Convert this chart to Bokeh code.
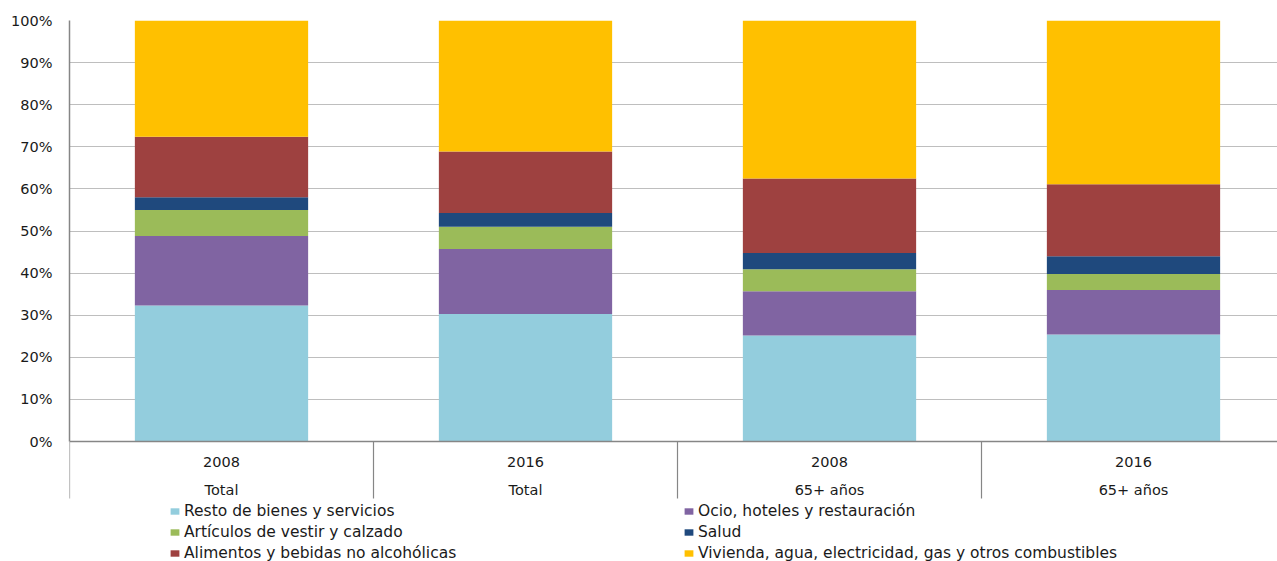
from bokeh.plotting import figure
from bokeh.models import (Range1d, FixedTicker, PrintfTickFormatter, Legend, LegendItem,
                          ColumnDataSource, Span)
from bokeh.core.properties import value
from bokeh.embed import file_html
from bokeh.resources import INLINE

# ---- data ----
years = ["2008", "2016", "2008", "2016"]
groups = ["Total", "Total", "65+ años", "65+ años"]
series_names = [
    "Resto de bienes y servicios",
    "Ocio, hoteles y restauración",
    "Artículos de vestir y calzado",
    "Salud",
    "Alimentos y bebidas no alcohólicas",
    "Vivienda, agua, electricidad, gas y otros combustibles",
]
resto = [32.3, 30.3, 25.2, 25.4]
ocio = [16.5, 15.4, 10.5, 10.6]
articulos = [6.2, 5.3, 5.2, 3.8]
salud = [3.0, 3.3, 3.9, 4.2]
alimentos = [14.4, 14.6, 17.7, 17.1]
vivienda = [27.6, 31.1, 37.5, 38.9]
colors = ["#93CDDD", "#8064A2", "#9BBB59", "#1F497D", "#9E4140", "#FFC000"]
y_ticks = list(range(0, 101, 10))

# ---- layout constants (pixels) ----
FONT = "DejaVu Sans"
TXT = "#1a1a1a"
AX = "#868686"
FRAME_W = 1208
CAT_W = 304
PLOT_H = 421          # height of the 0..100 % area
FRAME_H = 541         # plot area + category labels + legend
PX = 100.0 / PLOT_H   # data units per pixel


def below(px):
    """y value `px` pixels below the 0 % line"""
    return -px * PX


n = len(years)
xs = [i + 0.5 for i in range(n)]
bounds = list(range(n))
keys = ["resto", "ocio", "articulos", "salud", "alimentos", "vivienda"]
source = ColumnDataSource(dict(x=xs, resto=resto, ocio=ocio, articulos=articulos,
                               salud=salud, alimentos=alimentos, vivienda=vivienda))

p = figure(frame_width=FRAME_W, frame_height=FRAME_H,
           x_range=Range1d(0, FRAME_W / CAT_W),
           y_range=Range1d(below(FRAME_H - PLOT_H), 100),
           output_backend="svg", toolbar_location=None,
           min_border_left=69, min_border_right=0, min_border_top=20, min_border_bottom=0)
p.outline_line_color = None
p.background_fill_color = "white"
p.border_fill_color = "white"

renderers = p.vbar_stack(keys, x="x", width=0.57, color=colors, source=source, line_color=None)

# y axis
p.yaxis.ticker = FixedTicker(ticks=y_ticks)
p.yaxis.bounds = (0, 100)
p.yaxis.formatter = PrintfTickFormatter(format="%d%%")
p.yaxis.major_tick_out = 0
p.yaxis.major_tick_in = 0
p.yaxis.minor_tick_out = 0
p.yaxis.major_label_standoff = 17
p.yaxis.axis_line_color = AX
p.yaxis.axis_line_width = 1.5
p.yaxis.major_label_text_font = FONT
p.yaxis.major_label_text_font_size = "14.5px"
p.yaxis.major_label_text_color = TXT

p.ygrid.ticker = FixedTicker(ticks=y_ticks[1:])
p.ygrid.grid_line_color = "#BEBEBE"
p.ygrid.grid_line_width = 1.2
p.xgrid.visible = False
p.xaxis.visible = False

# category axis drawn in the plot area
p.add_layout(Span(location=0, dimension="width", line_color=AX, line_width=1.5))
p.segment(x0=bounds, y0=0, x1=bounds, y1=below(57), line_color=AX, line_width=1.2)
p.text(x=xs, y=[below(20)] * n, text=years, text_align="center", text_baseline="middle",
       text_font=value(FONT), text_font_size=value("14.5px"), text_color=TXT)
p.text(x=xs, y=[below(48)] * n, text=groups, text_align="center", text_baseline="middle",
       text_font=value(FONT), text_font_size=value("14.5px"), text_color=TXT)

# legend
items = [LegendItem(label=name, renderers=[r]) for name, r in zip(series_names, renderers)]
legend = Legend(items=items, orientation="horizontal", ncols=2,
                location=(100, -1), margin=0, padding=0, spacing=3,
                glyph_width=11, glyph_height=8, label_standoff=4,
                label_width=496, label_height=15,
                label_text_font=FONT, label_text_font_size="15.5px",
                label_text_color=TXT,
                border_line_color=None, background_fill_alpha=0)
p.add_layout(legend)

open("out.html", "w").write(file_html(p, INLINE))
